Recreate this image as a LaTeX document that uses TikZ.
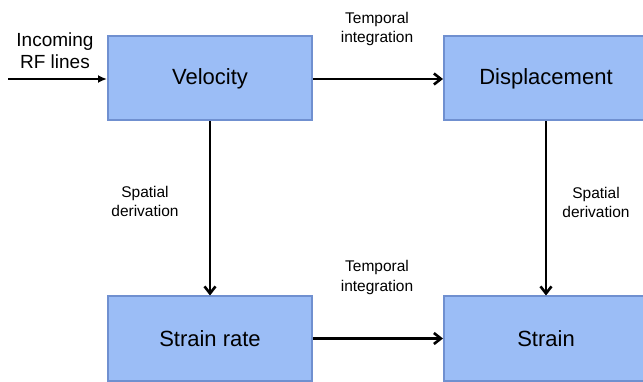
\documentclass[tikz,border=0pt]{standalone}
\usepackage{fontspec}
\setmainfont{Liberation Sans}
\usetikzlibrary{arrows.meta}
\definecolor{boxfill}{HTML}{9BBDF6}
\definecolor{boxline}{HTML}{7090D0}
\tikzset{
  blk/.style={draw=boxline, line width=2pt, fill=boxfill, minimum width=204pt, minimum height=84pt, inner sep=0pt, font=\fontsize{22}{26}\selectfont},
  lbl/.style={align=center, font=\fontsize{15.5}{19.5}\selectfont, inner sep=0pt},
  arr/.style={-{Straight Barb[length=7pt,width=11pt,line width=2.6pt]}, line width=2.8pt},
  thinarr/.style={-{Latex[length=9pt,width=8pt]}, line width=1.8pt}
}
\begin{document}
\begin{tikzpicture}[x=1pt,y=-1pt]
\useasboundingbox (0,0) rectangle (643,382);
\begin{scope}
\clip (0,0) rectangle (643,382);
\node[blk] (vel) at (210,78.5) {Velocity};
\node[blk] (disp) at (546,78.5) {Displacement};
\node[blk] (srate) at (210,338.5) {Strain rate};
\node[blk] (strain) at (546,338.5) {Strain};
\end{scope}
\coordinate (in) at (8,79);
\node[lbl, font=\fontsize{19}{22}\selectfont] (inlbl) at (55,51) {Incoming\\RF lines};
\draw[thinarr] (in) -- (vel.west |- in);
\draw[arr] (vel.east |- in) -- (disp.west |- in);
\draw[arr] (vel.south) -- (srate.north);
\draw[arr] (disp.south) -- (strain.north);
\draw[arr] (srate.east) -- (strain.west);
\node[lbl] (t1) at (377,29) {Temporal\\integration};
\node[lbl] (t2) at (377,277.5) {Temporal\\integration};
\node[lbl] (s1) at (145,201.5) {Spatial\\derivation};
\node[lbl] (s2) at (596,202.5) {Spatial\\derivation};
\end{tikzpicture}
\end{document}
